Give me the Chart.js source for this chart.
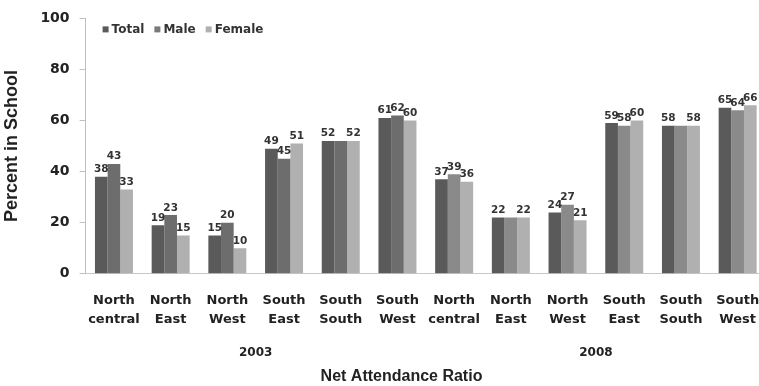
<!DOCTYPE html>
<html>
<head>
<meta charset="utf-8">
<script src="https://cdn.jsdelivr.net/npm/chart.js@4/dist/chart.umd.min.js"></script>
<style>
  html, body { margin: 0; padding: 0; background: #fff; overflow: hidden; }
  #wrap { width: 759px; height: 386px; overflow: hidden; }
  canvas { display: block; }
</style>
</head>
<body>
<div id="wrap"><canvas id="c" width="803" height="386"></canvas></div>
<script>
// Net attendance ratio by zone, 2003 and 2008 surveys
const CATEGORIES = [
  ['North', 'central'], ['North', 'East'], ['North', 'West'],
  ['South', 'East'], ['South', 'South'], ['South', 'West'],
  ['North', 'central'], ['North', 'East'], ['North', 'West'],
  ['South', 'East'], ['South', 'South'], ['South', 'West']
];
const YEARS = ['2003', '2008'];
const TOTAL  = [38, 19, 15, 49, 52, 61, 37, 22, 24, 59, 58, 65];
const MALE   = [43, 23, 20, 45, 52, 62, 39, 22, 27, 58, 58, 64];
const FEMALE = [33, 15, 10, 51, 52, 60, 36, 22, 21, 60, 58, 66];
const Y_TICKS = [0, 20, 40, 60, 80, 100];

const perYear = CATEGORIES.length / YEARS.length;
const maleColors = CATEGORIES.map((_, i) => (i < perYear ? '#6d6d6d' : '#8a8a8a'));

const BOLD = 'bold';
const SANS = '"DejaVu Sans", Verdana, sans-serif';
const TITLE_FONT = '"Liberation Sans", Arial, sans-serif';

// Value labels above each bar; identical labels that collide are drawn once
const valueLabels = {
  id: 'valueLabels',
  afterDatasetsDraw(chart) {
    const ctx = chart.ctx;
    ctx.save();
    ctx.font = 'bold 10.5px ' + SANS;
    ctx.fillStyle = '#333';
    ctx.textAlign = 'center';
    ctx.textBaseline = 'bottom';
    const drawn = [];
    const n = chart.data.labels.length;
    for (let i = 0; i < n; i++) {
      chart.data.datasets.forEach((ds, d) => {
        const bar = chart.getDatasetMeta(d).data[i];
        const txt = String(ds.data[i]);
        const w = ctx.measureText(txt).width;
        const box = { x1: bar.x - w / 2, x2: bar.x + w / 2, y1: bar.y - 13, y2: bar.y - 2, txt };
        const clash = drawn.some(b => b.txt === txt && b.x2 > box.x1 && b.x1 < box.x2 && b.y2 > box.y1 && b.y1 < box.y2);
        if (clash) return;
        drawn.push(box);
        ctx.fillText(txt, bar.x, bar.y - 2);
      });
    }
    ctx.restore();
  }
};

// Small inline legend in the top-left of the plot
const cornerLegend = {
  id: 'cornerLegend',
  afterDraw(chart) {
    const ctx = chart.ctx;
    const legendColors = ['#5a5a5a', '#7a7a7a', '#b0b0b0'];
    ctx.save();
    ctx.font = 'bold 12px ' + SANS;
    ctx.textBaseline = 'middle';
    let x = chart.chartArea.left + 17;
    const y = chart.chartArea.top + 11;
    chart.data.datasets.forEach((ds, d) => {
      ctx.fillStyle = legendColors[d];
      ctx.fillRect(x, y - 3, 6, 6);
      x += 9;
      ctx.fillStyle = '#333';
      ctx.fillText(ds.label, x, y);
      x += ctx.measureText(ds.label).width + 10;
    });
    ctx.restore();
  }
};

new Chart(document.getElementById('c'), {
  type: 'bar',
  data: {
    labels: CATEGORIES,
    datasets: [
      { label: 'Total',  data: TOTAL,  backgroundColor: '#5a5a5a' },
      { label: 'Male',   data: MALE,   backgroundColor: maleColors },
      { label: 'Female', data: FEMALE, backgroundColor: '#b0b0b0' }
    ]
  },
  options: {
    responsive: false,
    animation: false,
    layout: { padding: { left: 0, right: 0, top: 17, bottom: 0 } },
    datasets: { bar: { categoryPercentage: 0.67, barPercentage: 1.0 } },
    plugins: {
      legend: { display: false },
      tooltip: { enabled: false },
      title: {
        display: true,
        position: 'bottom',
        text: 'Net Attendance Ratio',
        color: '#222',
        font: { family: TITLE_FONT, weight: BOLD, size: 16, lineHeight: 1.2 },
        padding: { top: 4, bottom: 0 }
      }
    },
    scales: {
      x: {
        position: 'bottom',
        grid: { display: false, drawTicks: false },
        border: { display: true, color: '#c8c8c8', width: 1 },
        ticks: {
          color: '#222',
          padding: 17,
          maxRotation: 0,
          autoSkip: false,
          font: { family: SANS, weight: BOLD, size: 13, lineHeight: 1.46 }
        },
        afterFit(s) { s.height = 55; }
      },
      x2: {
        type: 'category',
        labels: YEARS,
        position: 'bottom',
        offset: true,
        grid: { display: false, drawTicks: false },
        border: { display: false },
        ticks: {
          color: '#222',
          padding: 16,
          font: { family: SANS, weight: BOLD, size: 12, lineHeight: 1.4 }
        },
        afterFit(s) { s.height = 34; }
      },
      y: {
        min: 0,
        max: 100,
        afterBuildTicks(s) { s.ticks = Y_TICKS.map(v => ({ value: v })); },
        grid: { drawOnChartArea: false, drawTicks: true, tickLength: 6, color: '#c0c0c0' },
        border: { display: true, color: '#c0c0c0', width: 1 },
        ticks: {
          color: '#222',
          padding: 10,
          font: { family: SANS, weight: BOLD, size: 14 }
        },
        title: {
          display: true,
          text: 'Percent in School',
          color: '#222',
          font: { family: TITLE_FONT, weight: BOLD, size: 18, lineHeight: 1.2 },
          padding: { top: 1, bottom: 0 }
        },
        afterFit(s) { s.width = 85.6; }
      },
      // empty right-hand margin axis so the plot runs past the visible edge
      yRight: {
        position: 'right',
        min: 0,
        max: 100,
        grid: { display: false, drawTicks: false },
        border: { display: false },
        ticks: { display: false },
        afterFit(s) { s.width = 37; }
      }
    }
  },
  plugins: [valueLabels, cornerLegend]
});
</script>
</body>
</html>
